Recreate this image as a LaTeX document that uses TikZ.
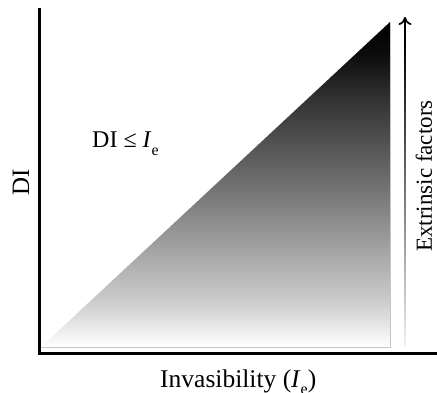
\documentclass[tikz,border=0pt]{standalone}
\usepackage{fontspec}
\setmainfont{Liberation Serif}
\usetikzlibrary{arrows.meta}
\pgfdeclareverticalshading{trishade}{100bp}{color(0bp)=(white); color(25bp)=(white); color(32bp)=(black!20); color(40bp)=(black!36); color(50bp)=(black!56); color(63bp)=(black!80); color(70bp)=(black!95); color(75bp)=(black); color(100bp)=(black)}
\tikzset{
  axisline/.style={line width=3pt, black},
  lbl/.style={inner sep=0pt, font=\fontsize{23}{26}\selectfont},
}
\newcommand{\subE}{\raisebox{-0.3em}{\fontsize{16}{16}\selectfont e}}
\begin{document}
\begin{tikzpicture}[x=1pt,y=-1pt]
\useasboundingbox (0,0) rectangle (437,393);
% triangle
\coordinate (t0) at (41,347);
\coordinate (t1) at (390,22);
\coordinate (t2) at (390,347);
\shade[shading=trishade] (t0) -- (t1) -- (t2) -- cycle;
\draw[gray!45, line width=0.8pt] (t0) -- (t2) -- (t1);
% axes
\coordinate (o) at (39,353.5);
\coordinate (ytop) at (39,10);
\coordinate (xend) at (437,353.5);
\draw[axisline, line cap=rect] (ytop) -- (o) -- (xend);
% arrow for extrinsic factors
\coordinate (ab) at (405,345);
\coordinate (at) at (405,17);
\coordinate (ah) at (405,45);
\shade[bottom color=gray!12, top color=black] (404.3,345) rectangle (405.7,42);
\draw[line width=1.7pt, -{To[length=8pt,width=13pt]}] (ah) -- (at);
% labels
\node[lbl, rotate=90, font=\fontsize{25}{28}\selectfont] (dilab) at (21,182) {DI};
\node[lbl, anchor=base west, font=\fontsize{24}{28}\selectfont] (rel) at (92,148) {DI ≤ \textit{I}\subE};
\node[lbl, rotate=90] (ext) at (424,176) {Extrinsic factors};
\node[lbl, anchor=base west, font=\fontsize{25.5}{28}\selectfont] (inv) at (160,387) {Invasibility (\textit{I}\subE)};
\end{tikzpicture}
\end{document}
